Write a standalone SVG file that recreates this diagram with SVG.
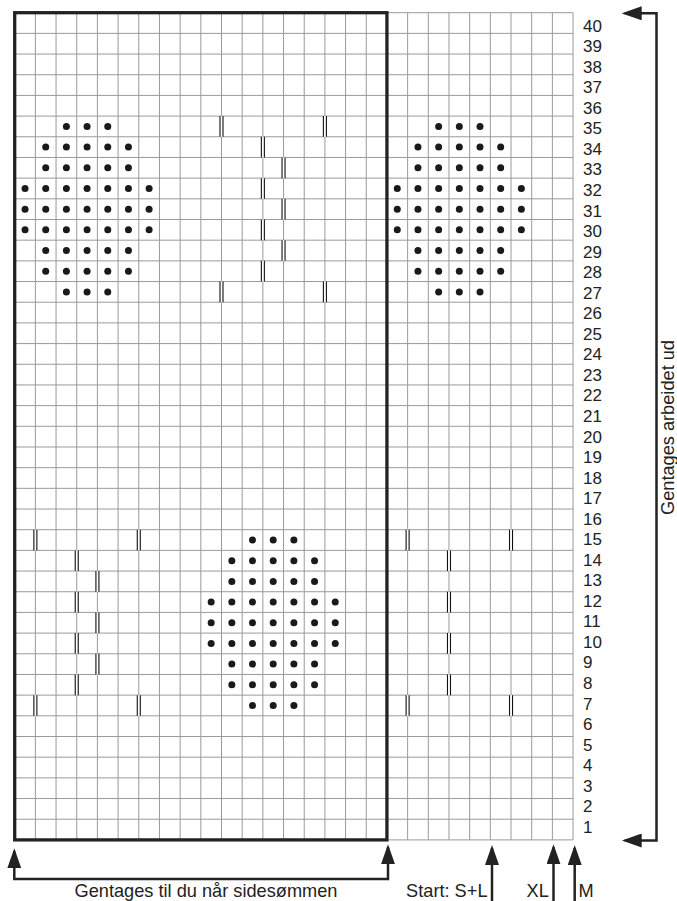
<svg xmlns="http://www.w3.org/2000/svg" xmlns:xlink="http://www.w3.org/1999/xlink" width="677" height="901" viewBox="0 0 677 901">
<style>
.grid{fill:none;stroke:#9a9a9a;stroke-width:1}
.frame{fill:none;stroke:#222;stroke-width:3.3}
.dot{fill:#1a1a1a}
.lbl{font-family:"Liberation Sans",Arial,Helvetica,sans-serif;font-size:17px;fill:#222}
.cap{font-family:"Liberation Sans",Arial,Helvetica,sans-serif;font-size:18.2px;fill:#222}
.arr{fill:none;stroke:#222;stroke-width:2.5;marker-start:url(#ah);marker-end:url(#ah)}
.arr1{fill:none;stroke:#222;stroke-width:2.5;marker-end:url(#ah)}
</style>
<defs>
<marker id="ah" viewBox="0 0 20 14" refX="17" refY="7" markerWidth="20" markerHeight="14" markerUnits="userSpaceOnUse" orient="auto-start-reverse">
<path d="M0 0L20 7L0 14z" fill="#222"/>
</marker>
<g id="m">
<rect x="-1.2" y="0" width="2.4" height="20.68" fill="#fff"/>
<path d="M-1.5 0V20.68M1.5 0V20.68" stroke="#111" stroke-width="1.1" fill="none"/>
</g>
<g id="motif" class="dot">
<circle cx="66.40" cy="126.44" r="3.5"/><circle cx="87.08" cy="126.44" r="3.5"/><circle cx="107.76" cy="126.44" r="3.5"/>
<circle cx="45.72" cy="147.12" r="3.5"/><circle cx="66.40" cy="147.12" r="3.5"/><circle cx="87.08" cy="147.12" r="3.5"/><circle cx="107.76" cy="147.12" r="3.5"/><circle cx="128.44" cy="147.12" r="3.5"/>
<circle cx="45.72" cy="167.80" r="3.5"/><circle cx="66.40" cy="167.80" r="3.5"/><circle cx="87.08" cy="167.80" r="3.5"/><circle cx="107.76" cy="167.80" r="3.5"/><circle cx="128.44" cy="167.80" r="3.5"/>
<circle cx="25.04" cy="188.48" r="3.5"/><circle cx="45.72" cy="188.48" r="3.5"/><circle cx="66.40" cy="188.48" r="3.5"/><circle cx="87.08" cy="188.48" r="3.5"/><circle cx="107.76" cy="188.48" r="3.5"/><circle cx="128.44" cy="188.48" r="3.5"/><circle cx="149.12" cy="188.48" r="3.5"/>
<circle cx="25.04" cy="209.16" r="3.5"/><circle cx="45.72" cy="209.16" r="3.5"/><circle cx="66.40" cy="209.16" r="3.5"/><circle cx="87.08" cy="209.16" r="3.5"/><circle cx="107.76" cy="209.16" r="3.5"/><circle cx="128.44" cy="209.16" r="3.5"/><circle cx="149.12" cy="209.16" r="3.5"/>
<circle cx="25.04" cy="229.84" r="3.5"/><circle cx="45.72" cy="229.84" r="3.5"/><circle cx="66.40" cy="229.84" r="3.5"/><circle cx="87.08" cy="229.84" r="3.5"/><circle cx="107.76" cy="229.84" r="3.5"/><circle cx="128.44" cy="229.84" r="3.5"/><circle cx="149.12" cy="229.84" r="3.5"/>
<circle cx="45.72" cy="250.52" r="3.5"/><circle cx="66.40" cy="250.52" r="3.5"/><circle cx="87.08" cy="250.52" r="3.5"/><circle cx="107.76" cy="250.52" r="3.5"/><circle cx="128.44" cy="250.52" r="3.5"/>
<circle cx="45.72" cy="271.20" r="3.5"/><circle cx="66.40" cy="271.20" r="3.5"/><circle cx="87.08" cy="271.20" r="3.5"/><circle cx="107.76" cy="271.20" r="3.5"/><circle cx="128.44" cy="271.20" r="3.5"/>
<circle cx="66.40" cy="291.88" r="3.5"/><circle cx="87.08" cy="291.88" r="3.5"/><circle cx="107.76" cy="291.88" r="3.5"/>
</g>
</defs>
<rect x="0" y="0" width="677" height="901" fill="#fff"/>
<g id="grid">
<path class="grid" d="M14.70 12.7V839.9M35.38 12.7V839.9M56.06 12.7V839.9M76.74 12.7V839.9M97.42 12.7V839.9M118.10 12.7V839.9M138.78 12.7V839.9M159.46 12.7V839.9M180.14 12.7V839.9M200.82 12.7V839.9M221.50 12.7V839.9M242.18 12.7V839.9M262.86 12.7V839.9M283.54 12.7V839.9M304.22 12.7V839.9M324.90 12.7V839.9M345.58 12.7V839.9M366.26 12.7V839.9M386.94 12.7V839.9M407.62 12.7V839.9M428.30 12.7V839.9M448.98 12.7V839.9M469.66 12.7V839.9M490.34 12.7V839.9M511.02 12.7V839.9M531.70 12.7V839.9M552.38 12.7V839.9M573.06 12.7V839.9"/>
<path class="grid" d="M14.7 12.70H573.06M14.7 33.38H573.06M14.7 54.06H573.06M14.7 74.74H573.06M14.7 95.42H573.06M14.7 116.10H573.06M14.7 136.78H573.06M14.7 157.46H573.06M14.7 178.14H573.06M14.7 198.82H573.06M14.7 219.50H573.06M14.7 240.18H573.06M14.7 260.86H573.06M14.7 281.54H573.06M14.7 302.22H573.06M14.7 322.90H573.06M14.7 343.58H573.06M14.7 364.26H573.06M14.7 384.94H573.06M14.7 405.62H573.06M14.7 426.30H573.06M14.7 446.98H573.06M14.7 467.66H573.06M14.7 488.34H573.06M14.7 509.02H573.06M14.7 529.70H573.06M14.7 550.38H573.06M14.7 571.06H573.06M14.7 591.74H573.06M14.7 612.42H573.06M14.7 633.10H573.06M14.7 653.78H573.06M14.7 674.46H573.06M14.7 695.14H573.06M14.7 715.82H573.06M14.7 736.50H573.06M14.7 757.18H573.06M14.7 777.86H573.06M14.7 798.54H573.06M14.7 819.22H573.06M14.7 839.90H573.06"/>
</g>
<g id="marks">
<use href="#m" x="221.50" y="116.10"/><use href="#m" x="324.90" y="116.10"/>
<use href="#m" x="262.86" y="136.78"/>
<use href="#m" x="283.54" y="157.46"/>
<use href="#m" x="262.86" y="178.14"/>
<use href="#m" x="283.54" y="198.82"/>
<use href="#m" x="262.86" y="219.50"/>
<use href="#m" x="283.54" y="240.18"/>
<use href="#m" x="262.86" y="260.86"/>
<use href="#m" x="221.50" y="281.54"/><use href="#m" x="324.90" y="281.54"/>
<use href="#m" x="35.38" y="529.70"/><use href="#m" x="138.78" y="529.70"/>
<use href="#m" x="76.74" y="550.38"/>
<use href="#m" x="97.42" y="571.06"/>
<use href="#m" x="76.74" y="591.74"/>
<use href="#m" x="97.42" y="612.42"/>
<use href="#m" x="76.74" y="633.10"/>
<use href="#m" x="97.42" y="653.78"/>
<use href="#m" x="76.74" y="674.46"/>
<use href="#m" x="35.38" y="695.14"/><use href="#m" x="138.78" y="695.14"/>
<use href="#m" x="407.62" y="529.70"/><use href="#m" x="511.02" y="529.70"/>
<use href="#m" x="448.98" y="550.38"/>
<use href="#m" x="448.98" y="591.74"/>
<use href="#m" x="448.98" y="633.10"/>
<use href="#m" x="448.98" y="674.46"/>
<use href="#m" x="407.62" y="695.14"/><use href="#m" x="511.02" y="695.14"/>
</g>
<g id="dots">
<use href="#motif"/>
<use href="#motif" transform="translate(372.24 0)"/>
<use href="#motif" transform="translate(186.12 413.6)"/>
</g>
<g id="repeat-frame">
<rect class="frame" x="14.7" y="12.7" width="372.24" height="827.2"/>
</g>
<g id="row-numbers" class="lbl">
<text x="583" y="31.70">40</text><text x="583" y="52.24">39</text><text x="583" y="72.78">38</text><text x="583" y="93.32">37</text><text x="583" y="113.86">36</text>
<text x="583" y="134.40">35</text><text x="583" y="154.94">34</text><text x="583" y="175.48">33</text><text x="583" y="196.02">32</text><text x="583" y="216.56">31</text>
<text x="583" y="237.10">30</text><text x="583" y="257.64">29</text><text x="583" y="278.18">28</text><text x="583" y="298.72">27</text><text x="583" y="319.26">26</text>
<text x="583" y="339.80">25</text><text x="583" y="360.34">24</text><text x="583" y="380.88">23</text><text x="583" y="401.42">22</text><text x="583" y="421.96">21</text>
<text x="583" y="442.50">20</text><text x="583" y="463.04">19</text><text x="583" y="483.58">18</text><text x="583" y="504.12">17</text><text x="583" y="524.66">16</text>
<text x="583" y="545.20">15</text><text x="583" y="565.74">14</text><text x="583" y="586.28">13</text><text x="583" y="606.82">12</text><text x="583" y="627.36">11</text>
<text x="583" y="647.90">10</text><text x="583" y="668.44">9</text><text x="583" y="688.98">8</text><text x="583" y="709.52">7</text><text x="583" y="730.06">6</text>
<text x="583" y="750.60">5</text><text x="583" y="771.14">4</text><text x="583" y="791.68">3</text><text x="583" y="812.22">2</text><text x="583" y="832.76">1</text>
</g>
<g id="connectors">
<path class="arr" d="M624.7 13.3H656.5V840.5H624.7"/>
<path class="arr" d="M14.3 851.3V879H388V847.3"/>
<path class="arr1" d="M492 901V848"/>
<path class="arr1" d="M553.5 901V847.3"/>
<path class="arr1" d="M574.7 901V848"/>
</g>
<g id="captions" class="cap">
<text x="674" y="427.5" text-anchor="middle" transform="rotate(-90 674 427.5)">Gentages arbeidet ud</text>
<text x="206" y="896.5" text-anchor="middle">Gentages til du når sidesømmen</text>
<text x="487.5" y="896.5" text-anchor="end">Start: S+L</text>
<text x="526.5" y="896.5">XL</text>
<text x="578.5" y="896.5">M</text>
</g>
</svg>
